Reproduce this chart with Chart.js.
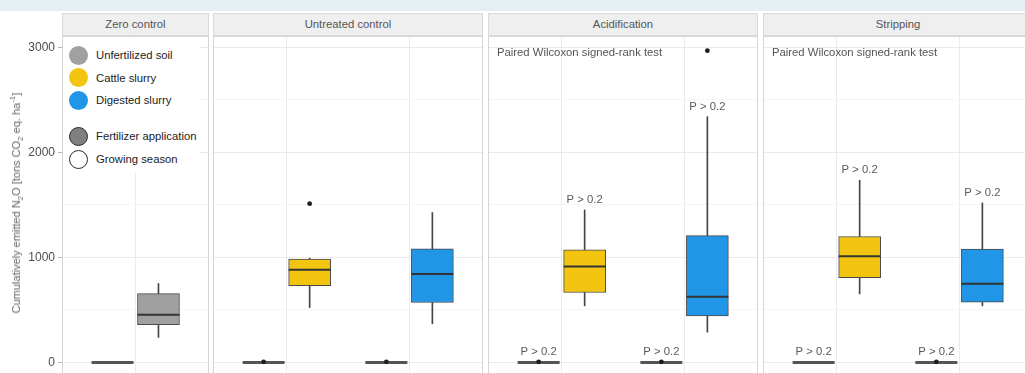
<!DOCTYPE html>
<html>
<head>
<meta charset="utf-8">
<title>Cumulatively emitted N2O</title>
<script src="https://cdn.jsdelivr.net/npm/chart.js@4.4.1/dist/chart.umd.min.js"></script>
<style>
  html, body { margin: 0; padding: 0; background: #fff; }
  body { position: relative; width: 1025px; height: 373px; overflow: hidden;
         font-family: "Liberation Sans", Arial, Helvetica, sans-serif; }
  #band { position: absolute; left: 0; top: 0; width: 1025px; height: 11px; background: #e3eff2; }
  .strip { position: absolute; top: 13px; height: 23px; box-sizing: border-box; background: #efefef;
           border: 1px solid #dadada; color: #555; font-size: 11.3px; line-height: 21px;
           text-align: center; white-space: nowrap; }
  canvas.panel { position: absolute; top: 36px; }
  #legend { position: absolute; left: 63px; top: 38px; width: 137px; height: 134px; background: #fff; z-index: 2; }
  .key { position: absolute; width: 19px; height: 19px; border-radius: 50%; box-sizing: border-box; }
  .keylabel { position: absolute; font-size: 11.3px; color: #222; white-space: nowrap; line-height: 14px; }
  #ytitle { position: absolute; left: 16px; top: 203px; transform: translate(-50%, -50%) rotate(-90deg);
            white-space: nowrap; font-size: 11px; color: #666; z-index: 2; }
  #ytitle sub, #ytitle sup { font-size: 8px; line-height: 0; }
</style>
</head>
<body>
<div id="band"></div>
<div id="ytitle">Cumulatively emitted N<sub>2</sub>O [tons CO<sub>2</sub> eq. ha<sup>-1</sup>]</div>
<div id="legend"></div>
<script>
// ---- data -------------------------------------------------------------
const facets = ['Zero control', 'Untreated control', 'Acidification', 'Stripping'];
const fertilizers = ['Unfertilized soil', 'Cattle slurry', 'Digested slurry'];
const fertilizerColors = ['#a0a0a0', '#f3c511', '#2196e6'];
const periods = ['Fertilizer application', 'Growing season'];
const yTicks = [0, 1000, 2000, 3000];
const yGrid = [0, 500, 1000, 1500, 2000, 2500, 3000];

// one entry per box (tons CO2 eq. per ha)
const boxFacet      = [0, 0, 1, 1, 1, 1, 2, 2, 2, 2, 3, 3, 3, 3];
const boxFertilizer = [0, 0, 1, 1, 2, 2, 1, 1, 2, 2, 1, 1, 2, 2];
const boxPeriod     = [0, 1, 0, 1, 0, 1, 0, 1, 0, 1, 0, 1, 0, 1];
const whiskerLow    = [0, 238, 0, 523, 0, 368, 0, 539, 0, 289, 0, 653, 0, 539];
const quartile1     = [0, 359, 0, 730, 0, 571, 0, 666, 0, 444, 0, 806, 0, 574];
const medians       = [0, 454, 0, 882, 0, 841, 0, 913, 0, 625, 0, 1012, 0, 749];
const quartile3     = [0, 656, 0, 983, 0, 1082, 0, 1072, 0, 1208, 0, 1199, 0, 1079];
const whiskerHigh   = [0, 752, 0, 993, 0, 1427, 0, 1452, 0, 2340, 0, 1735, 0, 1519];
const outliers      = [[], [], [6], [1512], [6], [], [6], [], [6], [2968], [], [], [6], []];
const pLabels       = ['', '', '', '', '', '', 'P > 0.2', 'P > 0.2', 'P > 0.2', 'P > 0.2',
                       'P > 0.2', 'P > 0.2', 'P > 0.2', 'P > 0.2'];
const testNote = 'Paired Wilcoxon signed-rank test';
const noteFacets = [2, 3];

// ---- layout -----------------------------------------------------------
const FONT = '"Liberation Sans", Arial, Helvetica, sans-serif';
const panelLeft = [62, 213, 488, 763];
const unitPx = 122.7;        // pixels per category unit
const plotHeight = 342;
const yMin = -148, yMax = 3108;
const dodge = 0.1875;        // offset of each period's box from the category centre
const boxPx = 42;

Chart.defaults.font.family = FONT;

function facetCategories(f) {
  const cats = [];
  boxFacet.forEach((bf, i) => {
    if (bf === f && !cats.includes(boxFertilizer[i])) cats.push(boxFertilizer[i]);
  });
  return cats;
}
function boxX(i) {
  const cats = facetCategories(boxFacet[i]);
  return cats.indexOf(boxFertilizer[i]) + 1 + (boxPeriod[i] === 0 ? -dodge : dodge);
}
function isFlat(i) { return quartile1[i] === quartile3[i]; }

function drawMedian(chart, i) {
  const ctx = chart.ctx;
  const cx = chart.scales.x.getPixelForValue(boxX(i));
  const my = chart.scales.y.getPixelForValue(medians[i]);
  ctx.beginPath();
  ctx.strokeStyle = isFlat(i) ? '#555' : '#333';
  ctx.lineWidth = isFlat(i) ? 3 : 2;
  ctx.moveTo(cx - boxPx / 2, my);
  ctx.lineTo(cx + boxPx / 2, my);
  ctx.stroke();
}

// medians, panel frame and test annotations
const boxDecor = {
  id: 'boxDecor',
  beforeDatasetsDraw(chart, args, opts) {
    // collapsed boxes sit under their outlier points
    chart.ctx.save();
    boxFacet.forEach((bf, i) => { if (bf === opts.facet && isFlat(i)) drawMedian(chart, i); });
    chart.ctx.restore();
  },
  afterDatasetsDraw(chart, args, opts) {
    const f = opts.facet;
    const xs = chart.scales.x, ys = chart.scales.y, ctx = chart.ctx;
    ctx.save();
    boxFacet.forEach((bf, i) => {
      if (bf !== f) return;
      if (!isFlat(i)) drawMedian(chart, i);
      if (pLabels[i]) {
        ctx.fillStyle = '#5a5a5a';
        ctx.font = '11.3px ' + FONT;
        ctx.textAlign = 'center';
        ctx.textBaseline = 'alphabetic';
        ctx.fillText(pLabels[i], xs.getPixelForValue(boxX(i)), ys.getPixelForValue(whiskerHigh[i]) - 7);
      }
    });
    if (noteFacets.includes(f)) {
      ctx.fillStyle = '#555';
      ctx.font = '11.3px ' + FONT;
      ctx.textAlign = 'left';
      ctx.textBaseline = 'middle';
      ctx.fillText(testNote, chart.chartArea.left + 9, chart.chartArea.top + 17);
    }
    ctx.restore();
  },
  afterDraw(chart) {
    const a = chart.chartArea, ctx = chart.ctx;
    ctx.save();
    ctx.strokeStyle = '#d6d6d6';
    ctx.lineWidth = 1;
    ctx.strokeRect(a.left + 0.5, a.top + 0.5, a.right - a.left - 1, a.bottom - a.top - 1);
    ctx.restore();
  }
};

facets.forEach((name, f) => {
  const cats = facetCategories(f);
  const panelPx = Math.round((cats.length + 0.2) * unitPx);
  const axisPx = f === 0 ? panelLeft[0] : 0;

  const strip = document.createElement('div');
  strip.className = 'strip';
  strip.style.left = panelLeft[f] + 'px';
  strip.style.width = panelPx + 'px';
  strip.textContent = name;
  document.body.appendChild(strip);

  const canvas = document.createElement('canvas');
  canvas.className = 'panel';
  canvas.width = panelPx + axisPx;
  canvas.height = plotHeight;
  canvas.style.width = (panelPx + axisPx) + 'px';
  canvas.style.height = plotHeight + 'px';
  canvas.style.left = (panelLeft[f] - axisPx) + 'px';
  document.body.appendChild(canvas);

  const idx = boxFacet.map((bf, i) => i).filter(i => boxFacet[i] === f);
  const outlierPts = [];
  idx.forEach(i => outliers[i].forEach(v => outlierPts.push({ x: boxX(i), y: v })));

  new Chart(canvas, {
    type: 'bar',
    data: {
      datasets: [
        { type: 'scatter', data: outlierPts, pointRadius: 2.4, pointBackgroundColor: '#1e1e1e',
          pointBorderWidth: 0 },
        { data: idx.map(i => ({ x: boxX(i), y: [quartile1[i], quartile3[i]] })),
          backgroundColor: idx.map(i => fertilizerColors[boxFertilizer[i]]),
          borderColor: '#4a4a4a', borderWidth: 1, borderSkipped: false,
          barThickness: boxPx, grouped: false },
        { data: idx.map(i => ({ x: boxX(i), y: [whiskerLow[i], quartile1[i]] })),
          backgroundColor: '#454545', barThickness: 1, grouped: false },
        { data: idx.map(i => ({ x: boxX(i), y: [quartile3[i], whiskerHigh[i]] })),
          backgroundColor: '#454545', barThickness: 1, grouped: false }
      ]
    },
    options: {
      responsive: false,
      animation: false,
      events: [],
      layout: { padding: 0, autoPadding: false },
      plugins: { legend: { display: false }, tooltip: { enabled: false }, boxDecor: { facet: f } },
      scales: {
        x: {
          type: 'linear', min: 0.4, max: cats.length + 0.6, offset: false, bounds: 'data',
          afterBuildTicks: s => { s.ticks = cats.map((c, k) => ({ value: k + 1 })); },
          ticks: { display: false, includeBounds: false },
          grid: { color: '#ebebeb', drawTicks: false, offset: false },
          border: { display: false }
        },
        y: {
          type: 'linear', min: yMin, max: yMax, offset: false, bounds: 'data',
          afterBuildTicks: s => { s.ticks = yGrid.map(v => ({ value: v })); },
          ticks: {
            display: f === 0, includeBounds: false,
            callback: v => yTicks.includes(v) ? String(v) : '',
            font: { size: 12, family: FONT }, color: '#4d4d4d', padding: 3
          },
          grid: {
            color: c => (c.tick && yTicks.includes(c.tick.value)) ? '#ebebeb' : '#f5f5f5',
            drawTicks: f === 0, tickLength: 4, offset: false,
            tickColor: c => (c.tick && yTicks.includes(c.tick.value)) ? '#b5b5b5' : 'rgba(0,0,0,0)'
          },
          border: { display: false },
          afterFit: s => { if (f === 0) s.width = axisPx; s.paddingTop = 0; s.paddingBottom = 0; }
        }
      }
    },
    plugins: [boxDecor]
  });
});

// legend drawn over the first panel
(function buildLegend() {
  const legend = document.getElementById('legend');
  const rows = [];
  fertilizers.forEach((name, k) => rows.push({ label: name, bg: fertilizerColors[k], border: 'none' }));
  rows.push({ label: periods[0], bg: '#7f7f7f', border: '1.5px solid #2b2b2b' });
  rows.push({ label: periods[1], bg: '#ffffff', border: '1.5px solid #2b2b2b' });
  const centers = [17, 39.5, 62, 98, 121];
  rows.forEach((r, k) => {
    const key = document.createElement('div');
    key.className = 'key';
    key.style.left = '5.5px';
    key.style.top = (centers[k] - 9.5) + 'px';
    key.style.background = r.bg;
    key.style.border = r.border;
    legend.appendChild(key);
    const lab = document.createElement('div');
    lab.className = 'keylabel';
    lab.style.left = '33px';
    lab.style.top = (centers[k] - 7) + 'px';
    lab.textContent = r.label;
    legend.appendChild(lab);
  });
})();
</script>
</body>
</html>
